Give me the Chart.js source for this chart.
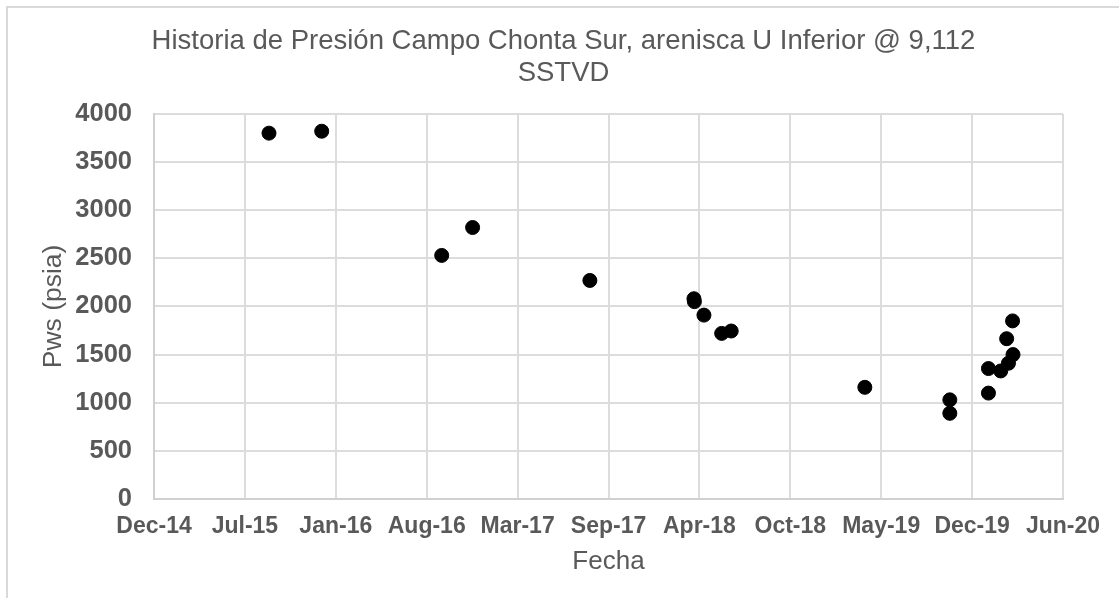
<!DOCTYPE html>
<html lang="es">
<head>
  <meta charset="UTF-8">
  <title>Historia de Presión Campo Chonta Sur</title>
  <script src="https://cdn.jsdelivr.net/npm/chart.js"></script>
  <style>
    body {
      margin: 0;
      background-color: #fff;
      font-family: "Liberation Sans", Arial, sans-serif;
    }

    #wrap {
      position: absolute;
      left: 6px;
      top: 6px;
      width: 1113px;
      height: 592px;
      box-sizing: border-box;
      border-top: 2px solid #d9d9d9;
      border-left: 2px solid #d9d9d9;
    }
  </style>
</head>
<body>
<div id="wrap">
  <canvas id="presionChart"></canvas>
</div>

<script>
    // fechas de medición y presión Pws (psia)
    const fechas = [
        '2015-09-06', '2015-12-31', '2016-09-20', '2016-11-27', '2017-08-12',
        '2018-03-29', '2018-03-30', '2018-04-20', '2018-05-29', '2018-06-19',
        '2019-04-09', '2019-10-13', '2019-10-13', '2020-01-06', '2020-01-06',
        '2020-02-02', '2020-02-19', '2020-02-29', '2020-02-15', '2020-02-28'
    ];
    const presiones = [
        3800, 3820, 2530, 2820, 2270,
        2080, 2050, 1910, 1720, 1745,
        1160, 1030, 890, 1100, 1355,
        1330, 1410, 1500, 1665, 1850
    ];

    // eje X en días seriales (como Excel)
    const ejeXMin = 42000;
    const ejeXMax = 44000;
    const ejeXPaso = 200;
    const ejeYTicks = [0, 500, 1000, 1500, 2000, 2500, 3000, 3500, 4000];

    const meses = ['Jan', 'Feb', 'Mar', 'Apr', 'May', 'Jun', 'Jul', 'Aug', 'Sep', 'Oct', 'Nov', 'Dec'];

    function aSerial(fecha) {
        return Date.parse(fecha + 'T00:00:00Z') / 86400000 + 25569;
    }

    function formatoFecha(serial) {
        const d = new Date((serial - 25569) * 86400000);
        return meses[d.getUTCMonth()] + '-' + String(d.getUTCFullYear()).slice(2);
    }

    const puntos = fechas.map((f, i) => ({ x: aSerial(f), y: presiones[i] }));

    const gris = '#595959';
    const rejilla = '#dcdcdc';

    new Chart(document.getElementById('presionChart'), {
        type: 'scatter',
        data: {
            datasets: [{
                label: 'Pws',
                data: puntos,
                backgroundColor: '#000',
                borderColor: '#000',
                borderWidth: 1,
                pointRadius: 7,
                pointHoverRadius: 7
            }]
        },
        options: {
            responsive: true,
            maintainAspectRatio: false,
            animation: false,
            layout: {
                // mismo relleno a ambos lados para que el título quede centrado
                padding: { top: 0, right: 56, bottom: 0, left: 56 }
            },
            plugins: {
                legend: { display: false },
                tooltip: { enabled: false },
                title: {
                    display: true,
                    text: ['Historia de Presión Campo Chonta Sur, arenisca U Inferior @ 9,112', 'SSTVD'],
                    color: gris,
                    font: { family: 'Liberation Sans', size: 27.5, weight: 'normal', lineHeight: 1.18 },
                    padding: { top: 17, bottom: 24 }
                }
            },
            scales: {
                x: {
                    type: 'linear',
                    min: ejeXMin,
                    max: ejeXMax,
                    grid: { color: rejilla, lineWidth: 2, drawTicks: false },
                    border: { color: '#d0d0d0', width: 2 },
                    ticks: {
                        stepSize: ejeXPaso,
                        padding: 14,
                        color: gris,
                        maxRotation: 0,
                        autoSkip: false,
                        font: { family: 'Liberation Sans', size: 23, weight: 'bold' },
                        callback: (v) => formatoFecha(v)
                    },
                    title: {
                        display: true,
                        text: 'Fecha',
                        color: gris,
                        font: { family: 'Liberation Sans', size: 26, weight: 'normal', lineHeight: 1.2 },
                        padding: { top: 4, bottom: 21 }
                    },
                    afterFit: (scale) => { scale.height = 99; }
                },
                y: {
                    min: 0,
                    max: 4000,
                    afterBuildTicks: (scale) => { scale.ticks = ejeYTicks.map(v => ({ value: v })); },
                    grid: { color: rejilla, lineWidth: 2, drawTicks: false },
                    border: { color: '#d0d0d0', width: 2 },
                    ticks: {
                        padding: 22,
                        color: gris,
                        font: { family: 'Liberation Sans', size: 25.5, weight: 'bold' },
                        callback: (v) => String(v)
                    },
                    title: {
                        display: true,
                        text: 'Pws (psia)',
                        color: gris,
                        font: { family: 'Liberation Sans', size: 26.5, weight: 'normal', lineHeight: 1.2 },
                        padding: { top: -26, bottom: 0 }
                    },
                    afterFit: (scale) => { scale.width = 90; }
                }
            }
        }
    });
</script>
</body>
</html>
